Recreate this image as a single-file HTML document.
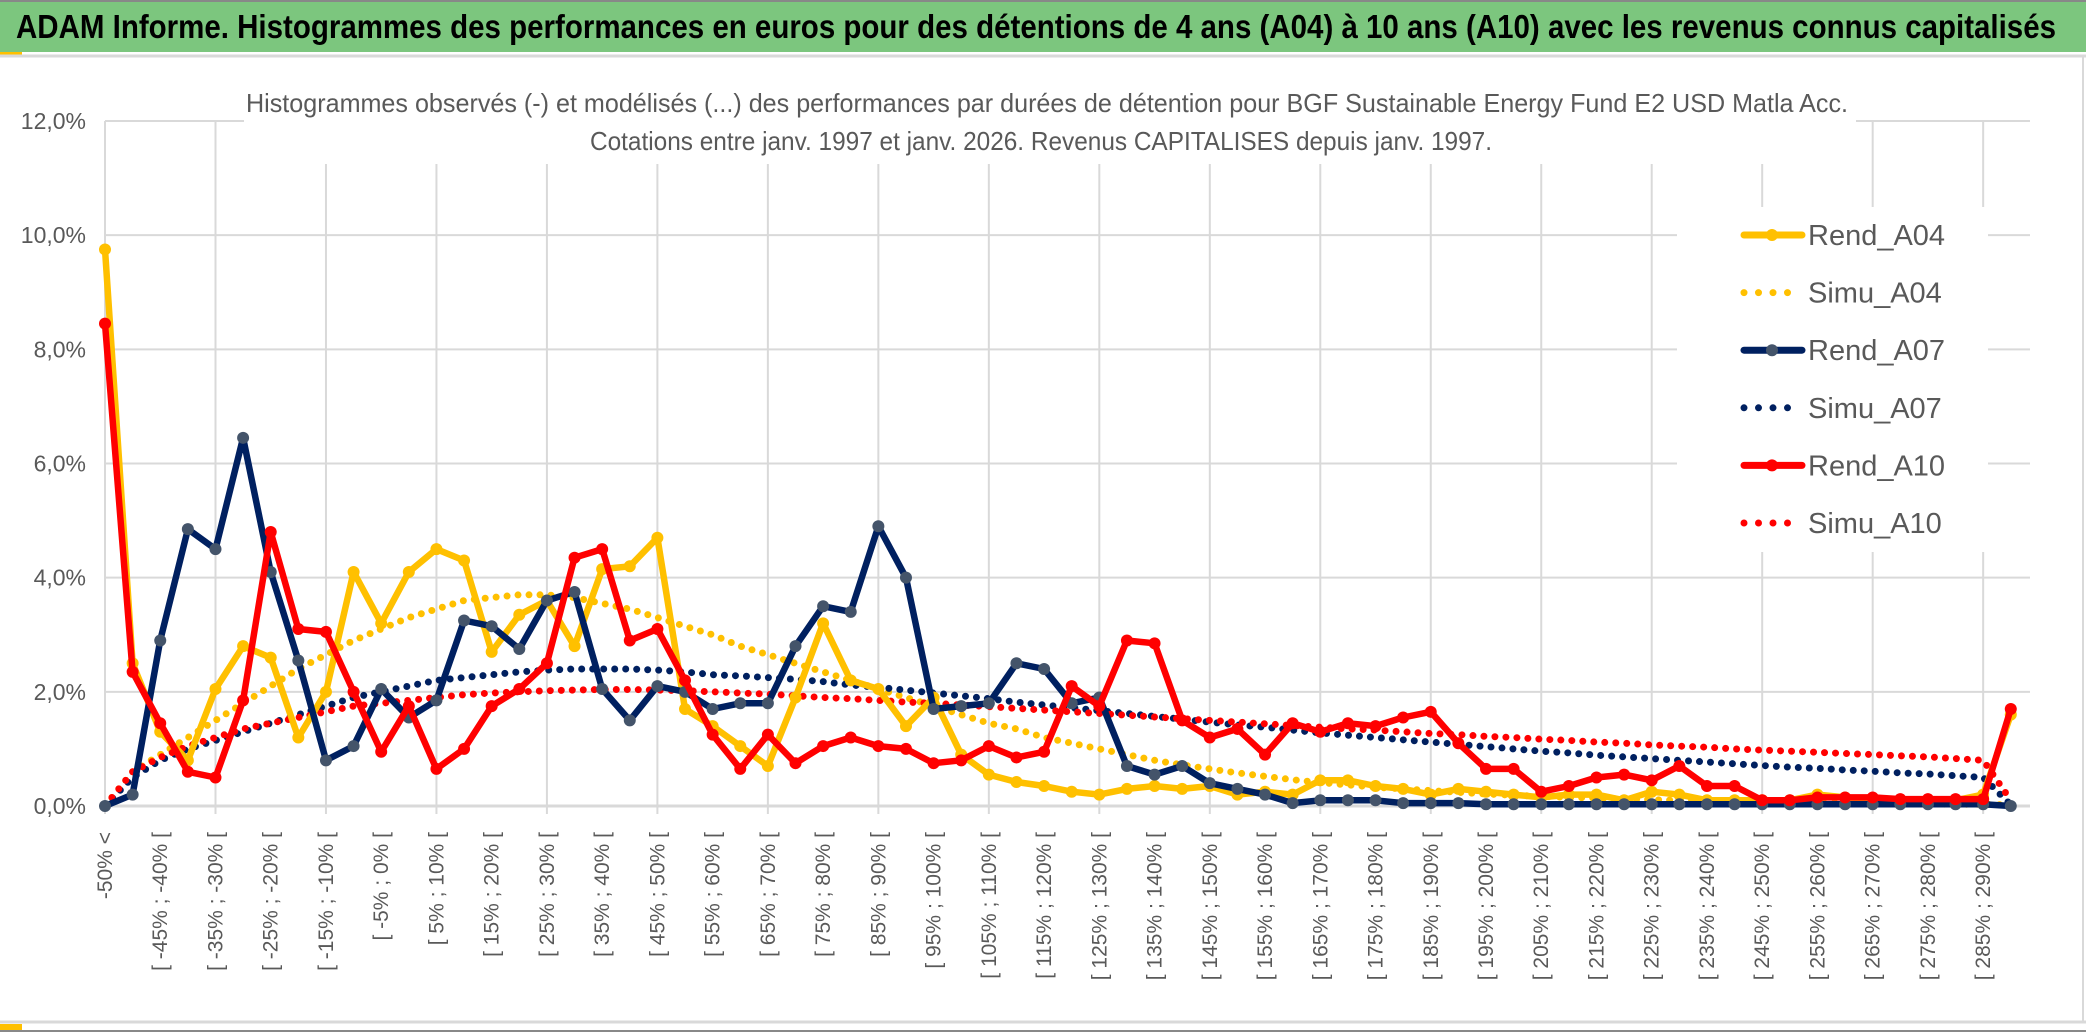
<!DOCTYPE html>
<html><head><meta charset="utf-8"><style>
html,body{margin:0;padding:0;background:#fff;}
svg{display:block;}
text{font-family:"Liberation Sans Narrow","Liberation Sans",sans-serif;}
</style></head><body>
<svg id="chart" width="2086" height="1033" viewBox="0 0 2086 1033" xmlns="http://www.w3.org/2000/svg">
<rect x="0" y="0" width="2086" height="1033" fill="#fff"/>
<rect x="0" y="2" width="2086" height="50" fill="#7cc67e"/>
<line x1="0" y1="1" x2="2086" y2="1" stroke="#888" stroke-width="2"/>
<rect x="0" y="52" width="22" height="4" fill="#ffc000"/>
<line x1="0" y1="56" x2="2086" y2="56" stroke="#d9d9d9" stroke-width="3"/>
<text x="16" y="38" font-size="33" font-weight="bold" fill="#000" textLength="2040" lengthAdjust="spacingAndGlyphs">ADAM Informe. Histogrammes des performances en euros pour des détentions de 4 ans (A04) à 10 ans (A10) avec les revenus connus capitalisés</text>
<line x1="2083" y1="56" x2="2083" y2="1023" stroke="#d9d9d9" stroke-width="2"/>
<line x1="0" y1="1022" x2="2086" y2="1022" stroke="#d9d9d9" stroke-width="3"/>
<line x1="0" y1="1031" x2="2086" y2="1031" stroke="#888" stroke-width="2"/>
<rect x="0" y="1024" width="22" height="6" fill="#ffc000"/>
<g id="grid"></g>
<g id="axes"></g>
<rect x="244" y="88" width="1612" height="76" fill="#fff"/>
<text x="246" y="112" font-size="26" fill="#595959" textLength="1602" lengthAdjust="spacingAndGlyphs">Histogrammes observés (-) et modélisés (...) des performances par durées de détention pour BGF Sustainable Energy Fund E2 USD Matla Acc.</text>
<text x="590" y="150" font-size="26" fill="#595959" textLength="902" lengthAdjust="spacingAndGlyphs">Cotations entre janv. 1997 et janv. 2026. Revenus CAPITALISES depuis janv. 1997.</text>
<g id="series"></g>
<rect x="1677" y="207" width="311" height="345" fill="#fff"/>
<g id="legend"></g>
</svg>
<script>
const categories = [];
categories.push("-50% <");
for (let k = 1; k < 70; k++) { const a = -55 + 5 * k; categories.push("[ " + a + "% ; " + (a + 5) + "% ["); }
const yTicks = [0, 2, 4, 6, 8, 10, 12];
const yTickLabels = ["0,0%", "2,0%", "4,0%", "6,0%", "8,0%", "10,0%", "12,0%"];
const rendA04 = [9.75,2.5,1.3,0.8,2.05,2.8,2.6,1.2,2.0,4.1,3.2,4.1,4.5,4.3,2.7,3.35,3.6,2.8,4.15,4.2,4.7,1.7,1.4,1.05,0.7,1.9,3.2,2.2,2.05,1.4,1.9,0.9,0.55,0.42,0.35,0.25,0.2,0.3,0.35,0.3,0.35,0.2,0.25,0.2,0.45,0.45,0.35,0.3,0.2,0.3,0.25,0.2,0.15,0.2,0.2,0.1,0.25,0.2,0.1,0.1,0.1,0.1,0.2,0.15,0.1,0.1,0.1,0.1,0.2,1.6];
const simuA04 = [0,0.6,0.9,1.2,1.5,1.8,2.1,2.4,2.65,2.9,3.1,3.3,3.45,3.6,3.65,3.7,3.7,3.65,3.55,3.45,3.3,3.15,3.0,2.8,2.65,2.5,2.35,2.2,2.05,1.9,1.75,1.6,1.45,1.35,1.2,1.1,1.0,0.9,0.8,0.72,0.65,0.58,0.52,0.46,0.41,0.37,0.33,0.3,0.27,0.24,0.21,0.19,0.17,0.15,0.14,0.12,0.11,0.1,0.09,0.08,0.07,0.06,0.06,0.05,0.05,0.04,0.04,0.03,0.03,0.02];
const rendA07 = [0,0.2,2.9,4.85,4.5,6.45,4.1,2.55,0.8,1.05,2.05,1.55,1.85,3.25,3.15,2.75,3.6,3.75,2.05,1.5,2.1,2.0,1.7,1.8,1.8,2.8,3.5,3.4,4.9,4.0,1.7,1.75,1.8,2.5,2.4,1.8,1.9,0.7,0.55,0.7,0.4,0.3,0.2,0.05,0.1,0.1,0.1,0.05,0.05,0.05,0.03,0.03,0.03,0.03,0.03,0.03,0.03,0.03,0.03,0.03,0.03,0.03,0.03,0.03,0.03,0.03,0.03,0.03,0.03,0];
const simuA07 = [0,0.5,0.8,1.0,1.15,1.3,1.45,1.6,1.75,1.9,2.0,2.1,2.2,2.25,2.3,2.35,2.38,2.4,2.4,2.4,2.38,2.35,2.3,2.28,2.25,2.22,2.18,2.12,2.08,2.03,1.98,1.93,1.88,1.82,1.77,1.72,1.67,1.62,1.57,1.52,1.47,1.42,1.38,1.33,1.28,1.24,1.2,1.16,1.12,1.08,1.04,1.0,0.96,0.93,0.89,0.86,0.83,0.8,0.77,0.74,0.71,0.68,0.66,0.63,0.61,0.58,0.56,0.53,0.5,0.02];
const rendA10 = [8.45,2.35,1.45,0.6,0.5,1.85,4.8,3.1,3.05,2.0,0.95,1.75,0.65,1.0,1.75,2.05,2.5,4.35,4.5,2.9,3.1,2.2,1.25,0.65,1.25,0.75,1.05,1.2,1.05,1.0,0.75,0.8,1.05,0.85,0.95,2.1,1.75,2.9,2.85,1.5,1.2,1.35,0.9,1.45,1.3,1.45,1.4,1.55,1.65,1.1,0.65,0.65,0.25,0.35,0.5,0.55,0.45,0.7,0.35,0.35,0.1,0.1,0.15,0.15,0.15,0.12,0.12,0.12,0.12,1.7];
const simuA10 = [0,0.6,0.85,1.05,1.2,1.35,1.45,1.55,1.65,1.75,1.8,1.85,1.9,1.95,1.98,2.0,2.02,2.03,2.04,2.04,2.03,2.02,2.0,1.98,1.96,1.93,1.9,1.88,1.85,1.82,1.8,1.77,1.74,1.71,1.68,1.65,1.62,1.59,1.56,1.53,1.5,1.47,1.44,1.41,1.38,1.35,1.33,1.3,1.27,1.25,1.22,1.2,1.17,1.15,1.12,1.1,1.07,1.05,1.03,1.0,0.98,0.96,0.94,0.92,0.9,0.88,0.86,0.83,0.8,0.1];

const NS = "http://www.w3.org/2000/svg";
const X0 = 105, DX = 27.62, Y0 = 806, YMAX = 121;
function xScale(i) { return X0 + i * DX; }
function yScale(v) { return Y0 - (v / 12) * (Y0 - YMAX); }
function mk(tag, attrs, parent) { const e = document.createElementNS(NS, tag); for (const k in attrs) e.setAttribute(k, attrs[k]); parent.appendChild(e); return e; }

const grid = document.getElementById("grid");
const axes = document.getElementById("axes");
const plotRight = 2030;
yTicks.forEach((t, j) => {
  const y = yScale(t);
  const gl = mk("line", {x1: X0, x2: plotRight, y1: y, y2: y, stroke: "#d9d9d9", "stroke-width": t === 0 ? 3 : 2}, grid);
  
  
  const lb = mk("text", {x: 86, y: y + 8, "text-anchor": "end", "font-size": 23, fill: "#595959"}, axes);
  lb.textContent = yTickLabels[j];
  
  
});
for (let i = 0; i < categories.length; i += 4) {
  const x = xScale(i);
  const vl = mk("line", {x1: x, x2: x, y1: YMAX, y2: Y0 + 8, stroke: "#d9d9d9", "stroke-width": 2}, grid);
  
  
}
for (let i = 0; i < categories.length; i += 2) {
  const x = xScale(i) + 7;
  const t = mk("text", {x: 0, y: 0, transform: "translate(" + x + ",832) rotate(-90)", "text-anchor": "end", "font-size": 21, fill: "#595959", "font-family": "Liberation Sans, sans-serif"}, axes);
  t.textContent = categories[i];
  
  
}

const seriesG = document.getElementById("series");
const seriesDefs = [
  {name: "simu-a04", data: simuA04, color: "#ffc000", dotted: true},
  {name: "simu-a07", data: simuA07, color: "#002060", dotted: true},
  {name: "simu-a10", data: simuA10, color: "#ff0000", dotted: true},
  {name: "rend-a04", data: rendA04, color: "#ffc000", dotted: false, marker: "#ffc000"},
  {name: "rend-a07", data: rendA07, color: "#002060", dotted: false, marker: "#44546a"},
  {name: "rend-a10", data: rendA10, color: "#ff0000", dotted: false, marker: "#ff0000"}
];
seriesDefs.forEach(s => {
  const g = mk("g", {}, seriesG);
  
  
  const pts = s.data.map((v, i) => xScale(i).toFixed(1) + "," + yScale(v).toFixed(1)).join(" ");
  const pl = mk("polyline", {points: pts, fill: "none", stroke: s.color, "stroke-width": s.dotted ? 7 : 6.5, "stroke-linejoin": "round", "stroke-linecap": "round"}, g);
  if (s.dotted) pl.setAttribute("stroke-dasharray", "0 11");
  
  
  if (!s.dotted) {
    s.data.forEach((v, i) => {
      const c = mk("circle", {cx: xScale(i), cy: yScale(v), r: 6, fill: s.marker}, g);
      
      
    });
  }
});

const legend = document.getElementById("legend");
const legendItems = [
  {label: "Rend_A04", color: "#ffc000", dotted: false, marker: "#ffc000"},
  {label: "Simu_A04", color: "#ffc000", dotted: true},
  {label: "Rend_A07", color: "#002060", dotted: false, marker: "#44546a"},
  {label: "Simu_A07", color: "#002060", dotted: true},
  {label: "Rend_A10", color: "#ff0000", dotted: false, marker: "#ff0000"},
  {label: "Simu_A10", color: "#ff0000", dotted: true}
];
legendItems.forEach((it, k) => {
  const y = 235 + k * 57.6;
  const g = mk("g", {}, legend);
  
  
  if (it.dotted) {
    const l = mk("line", {x1: 1744, x2: it.label === "Simu_A10" ? 1802 : 1792, y1: y, y2: y, stroke: it.color, "stroke-width": 7, "stroke-linecap": "round", "stroke-dasharray": "0 14.5"}, g);
    
    
  } else {
    const l = mk("line", {x1: 1744, x2: 1802, y1: y, y2: y, stroke: it.color, "stroke-width": 7, "stroke-linecap": "round"}, g);
    
    
    const c = mk("circle", {cx: 1772, cy: y, r: 6, fill: it.marker}, g);
    
    
  }
  const t = mk("text", {x: 1808, y: y + 10, "font-size": 29, fill: "#595959"}, g);
  t.textContent = it.label;
  
  
});
</script>
</body></html>
